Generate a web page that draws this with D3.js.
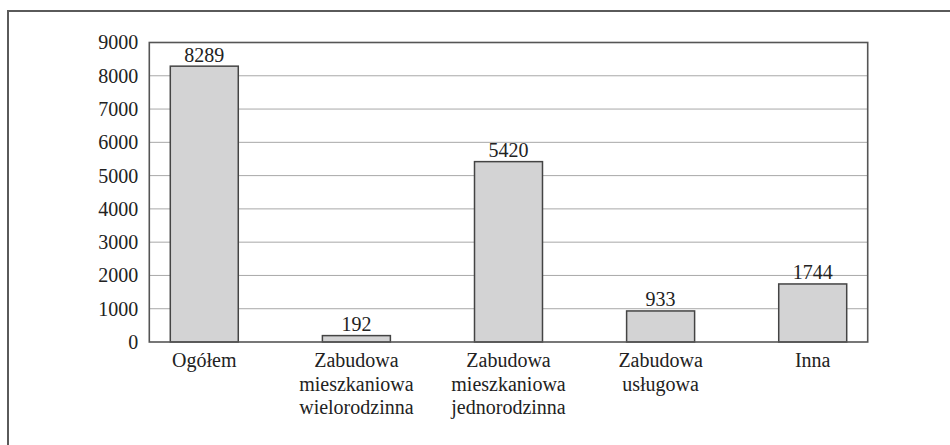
<!DOCTYPE html>
<html><head><meta charset="utf-8">
<script src="https://cdn.jsdelivr.net/npm/d3@7"></script>
<style>body{margin:0;background:#fff}svg{display:block}
svg text{font-family:'Liberation Serif','Times New Roman',Times,serif;}</style>
</head><body>
<script>
const categories = [["Ogółem"],["Zabudowa","mieszkaniowa","wielorodzinna"],["Zabudowa","mieszkaniowa","jednorodzinna"],["Zabudowa","usługowa"],["Inna"]];
const values = [8289,192,5420,933,1744];
const yTicks = [0,1000,2000,3000,4000,5000,6000,7000,8000,9000];

const W=950,H=445;
const svg=d3.select("body").append("svg").attr("width",W).attr("height",H);
svg.append("rect").attr("x",8).attr("y",11).attr("width",960).attr("height",460)
  .attr("fill","none").attr("stroke","#5a5a5a").attr("stroke-width",2);

const L=149.3,R=867.7,T=42.5,B=342;
const keys=categories.map(c=>c.join(" "));
const x=d3.scaleBand().domain(keys).range([L,R]).paddingInner(0.553).paddingOuter(0.138);
const y=d3.scaleLinear().domain([0,9000]).range([B,T]);

// grid
svg.append("g").selectAll("line").data(yTicks.filter(t=>t>0&&t<9000)).join("line")
  .attr("x1",L).attr("x2",R).attr("y1",d=>y(d)).attr("y2",d=>y(d))
  .attr("stroke","#a8a8a8").attr("stroke-width",1);

// y axis labels
const ya=d3.axisLeft(y).tickValues(yTicks).tickSize(0).tickPadding(11).tickFormat(d3.format("d"));
const yg=svg.append("g").attr("transform",`translate(${L},0)`).call(ya);
yg.select(".domain").remove();
yg.attr("font-family",null);
yg.selectAll("text").attr("font-size",20).attr("fill","#222");

// bars
svg.append("g").selectAll("rect").data(values).join("rect")
  .attr("x",(d,i)=>x(keys[i])).attr("width",x.bandwidth())
  .attr("y",d=>y(d)).attr("height",d=>B-y(d))
  .attr("fill","#d3d3d4").attr("stroke","#444").attr("stroke-width",1.5);

// value labels
svg.append("g").selectAll("text").data(values).join("text")
  .attr("x",(d,i)=>x(keys[i])+x.bandwidth()/2).attr("y",d=>y(d)-4.5)
  .attr("text-anchor","middle").attr("font-size",20).attr("fill","#222")
  .text(d=>d);

// plot border
svg.append("rect").attr("x",L).attr("y",T).attr("width",R-L).attr("height",B-T)
  .attr("fill","none").attr("stroke","#555").attr("stroke-width",1.6);

// category labels
const cg=svg.append("g").selectAll("text").data(categories).join("text")
  .attr("text-anchor","middle").attr("font-size",20).attr("fill","#222")
  .attr("transform",(d,i)=>`translate(${x(keys[i])+x.bandwidth()/2},0)`);
cg.selectAll("tspan").data(d=>d).join("tspan")
  .attr("x",0).attr("y",(d,j)=>367+j*23.5).text(d=>d);
</script>
</body></html>
